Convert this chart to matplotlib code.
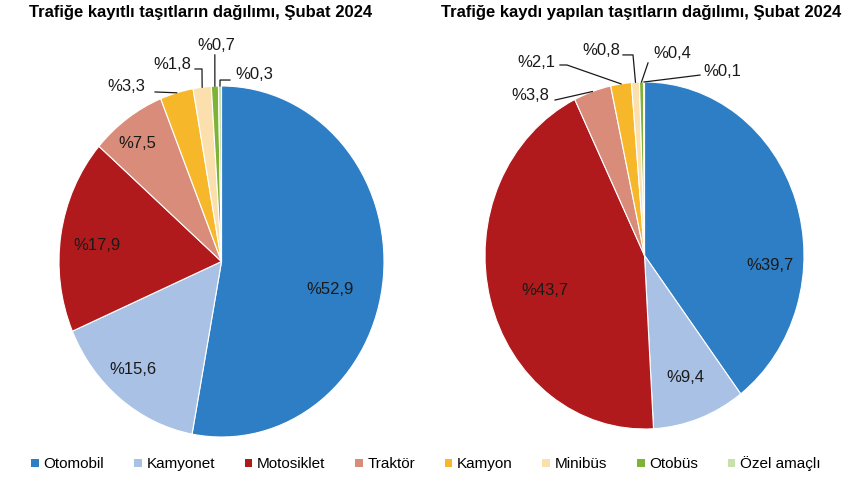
import matplotlib
matplotlib.use('Agg')
import matplotlib.pyplot as plt
import numpy as np
from matplotlib.patches import Patch

plt.rcParams['font.family'] = ['Liberation Sans', 'DejaVu Sans']

## categories and shares (percent)
categories = ['Otomobil', 'Kamyonet', 'Motosiklet', 'Traktör', 'Kamyon', 'Minibüs', 'Otobüs', 'Özel amaçlı']
kayitli = [52.9, 15.6, 17.9, 7.5, 3.3, 1.8, 0.7, 0.3]
kaydi_yapilan = [39.7, 9.4, 43.7, 3.8, 2.1, 0.8, 0.4, 0.1]
colors = ['#2e7ec5', '#a8c1e4', '#b01a1c', '#d98c7a', '#f6b82a', '#fbe0ad', '#7fb336', '#c8e0aa']

title_left = 'Trafiğe kayıtlı taşıtların dağılımı, Şubat 2024'
title_right = 'Trafiğe kaydı yapılan taşıtların dağılımı, Şubat 2024'

### label layout: (text x, text y, [leader points before slice edge]) or None for inside labels
layout_left = [
    ((0.668, -0.162), None),
    ((-0.545, -0.618), None),
    ((-0.766, 0.094), None),
    ((-0.52, 0.675), None),
    ((-0.585, 1.0), [(-0.409, 0.966)]),
    ((-0.300, 1.125), [(-0.163, 1.097), (-0.12, 1.097)]),
    ((-0.034, 1.232), [(-0.041, 1.177)]),
    ((0.205, 1.068), [(0.052, 1.034), (-0.009, 1.034)]),
]
layout_right = [
    ((0.787, -0.055), None),
    ((0.254, -0.706), None),
    ((-0.624, -0.199), None),
    ((-0.715, 0.925), [(-0.561, 0.896)]),
    ((-0.677, 1.115), [(-0.53, 1.098), (-0.486, 1.098)]),
    ((-0.269, 1.184), [(-0.135, 1.156), (-0.072, 1.156)]),
    ((0.175, 1.167), [(0.022, 1.110)]),
    ((0.49, 1.058), [(0.348, 1.040)]),
]

W, H = 850, 478
fig = plt.figure(figsize=(W / 100, H / 100), dpi=100)


def draw_pie(box, values, layout, title, title_x):
    ax = fig.add_axes(box)
    wedges, _ = ax.pie(values, colors=colors, startangle=90, counterclock=False,
                       radius=1, wedgeprops=dict(linewidth=0.8, edgecolor='white'))
    ax.set_aspect('auto')
    ax.set_xlim(-1, 1)
    ax.set_ylim(-1, 1)
    ax.axis('off')
    for w, v, (pos, pts) in zip(wedges, values, layout):
        lab = ('%%%.1f' % v).replace('.', ',')
        ax.text(pos[0], pos[1], lab, ha='center', va='center', fontsize=12,
                color='#1a1a1a', clip_on=False)
        if pts is not None:
            mid = np.deg2rad((w.theta1 + w.theta2) / 2.0)
            xs = [p[0] for p in pts] + [np.cos(mid)]
            ys = [p[1] for p in pts] + [np.sin(mid)]
            ax.plot(xs, ys, color='#1a1a1a', lw=0.9, clip_on=False)
    fig.text(title_x, 1 - 13 / H, title, ha='center', va='center',
             fontsize=12, fontweight='bold')
    return ax


draw_pie([59 / W, 41 / H, 325 / W, 351 / H], kayitli, layout_left, title_left, 200.5 / W)
draw_pie([485 / W, 49 / H, 319 / W, 347 / H], kaydi_yapilan, layout_right, title_right, 641 / W)

handles = [Patch(facecolor=c, edgecolor='none') for c in colors]
fig.legend(handles, categories, loc='center', bbox_to_anchor=(426 / W, 1 - 464 / H),
           ncol=8, frameon=False, handlelength=0.5, handleheight=0.5, handletextpad=0.3,
           columnspacing=1.95, prop={'size': 11})

plt.savefig('out.png', dpi=100)
